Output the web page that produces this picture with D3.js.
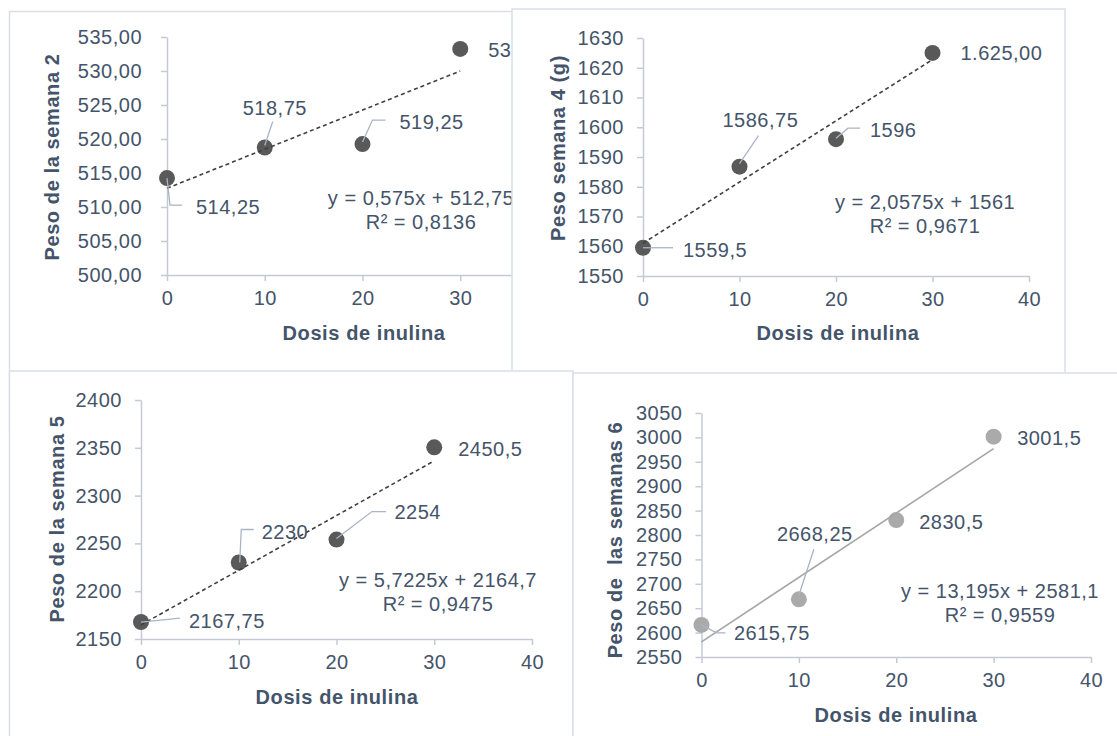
<!DOCTYPE html>
<html>
<head>
<meta charset="utf-8">
<script src="https://cdn.jsdelivr.net/npm/d3@7"></script>
<style>
  body { margin: 0; background: #fff; }
  svg { display: block; }
</style>
</head>
<body>
<svg id="chart" width="1117" height="736"></svg>
<script>
// doses (x) shared by the four charts
const dosis = [0, 10, 20, 30];
const xTicks = [0, 10, 20, 30, 40];

// semana 2
const pesoSem2 = [514.25, 518.75, 519.25, 533.25];
const labelsSem2 = ['514,25', '518,75', '519,25', '533,25'];
const ticksSem2 = [500, 505, 510, 515, 520, 525, 530, 535];
const trendSem2 = [0.575, 512.75];
const eqSem2 = ['y = 0,575x + 512,75', 'R² = 0,8136'];

// semana 4
const pesoSem4 = [1559.5, 1586.75, 1596, 1625];
const labelsSem4 = ['1559,5', '1586,75', '1596', '1.625,00'];
const ticksSem4 = [1550, 1560, 1570, 1580, 1590, 1600, 1610, 1620, 1630];
const trendSem4 = [2.0575, 1561];
const eqSem4 = ['y = 2,0575x + 1561', 'R² = 0,9671'];

// semana 5
const pesoSem5 = [2167.75, 2230, 2254, 2350.5];
const labelsSem5 = ['2167,75', '2230', '2254', '2450,5'];
const ticksSem5 = [2150, 2200, 2250, 2300, 2350, 2400];
const trendSem5 = [5.7225, 2164.7];
const eqSem5 = ['y = 5,7225x + 2164,7', 'R² = 0,9475'];

// semana 6
const pesoSem6 = [2615.75, 2668.25, 2830.5, 3001.5];
const labelsSem6 = ['2615,75', '2668,25', '2830,5', '3001,5'];
const ticksSem6 = [2550, 2600, 2650, 2700, 2750, 2800, 2850, 2900, 2950, 3000, 3050];
const trendSem6 = [13.195, 2581.1];
const eqSem6 = ['y = 13,195x + 2581,1', 'R² = 0,9559'];

const esLocale = d3.formatLocale({ decimal: ',', thousands: '.', grouping: [3], currency: ['', ''] });
const fmtDec = esLocale.format('.2f');
const fmtInt = esLocale.format('d');

const textColor = '#44546a';
const axisColor = '#c3cad6';
const leaderColor = '#a9b4c6';
const frameColor = '#d9dee7';
const font = '"Liberation Sans", Arial, sans-serif';

// layout of each chart (pixel positions only)
const panels = [
  {
    values: pesoSem2, labels: labelsSem2, ticks: ticksSem2, trend: trendSem2, eq: eqSem2,
    fmt: fmtDec, yTitle: 'Peso de la semana 2',
    frame: [9.5, 11.5, 620, 420], xRange: [167, 558], yRange: [275, 37], yPad: 25,
    dot: '#595959', line: '#404040', dash: '4,3',
    labelPos: [[29, 29], [-22, -40], [37, -22], [28, 1]],
    leaders: [[[0, 0], [3, 27], [15, 27]], [[0, -2], [8, -26]], [[0, -2], [10, -24], [23, -24]], null],
    eqPos: [421, 198], yTitlePos: [52, 157], xTitlePos: [364, 333]
  },
  {
    values: pesoSem4, labels: labelsSem4, ticks: ticksSem4, trend: trendSem4, eq: eqSem4,
    fmt: fmtInt, yTitle: 'Peso semana 4 (g)',
    frame: [512, 9, 553, 420], xRange: [643, 1029], yRange: [276, 38], yPad: 19,
    dot: '#595959', line: '#404040', dash: '4,3',
    labelPos: [[40, 2], [-17, -47], [34, -9], [28, 0]],
    leaders: [[[0, 0], [30, 0]], [[0, -3], [19, -31]], [[0, -1], [12, -11], [24, -11]], null],
    eqPos: [925, 202], yTitlePos: [558, 148], xTitlePos: [838, 333]
  },
  {
    values: pesoSem5, labels: labelsSem5, ticks: ticksSem5, trend: trendSem5, eq: eqSem5,
    fmt: fmtInt, yTitle: 'Peso de la semana 5',
    frame: [9.5, 371, 563.5, 420], xRange: [141, 532], yRange: [639, 400], yPad: 19,
    dot: '#595959', line: '#404040', dash: '4,3',
    labelPos: [[48, -1], [23, -31], [58, -28], [24, 2]],
    leaders: [[[0, 0], [39, -4]], [[1, 0], [2.5, -33], [15, -33]], [[0, -1], [35.5, -28], [49.5, -28]], null],
    eqPos: [438, 580], yTitlePos: [57, 519], xTitlePos: [337, 697]
  },
  {
    values: pesoSem6, labels: labelsSem6, ticks: ticksSem6, trend: trendSem6, eq: eqSem6,
    fmt: fmtInt, yTitle: 'Peso de  las semanas 6',
    frame: [573, 373, 600, 420], xRange: [701.5, 1091], yRange: [657, 413], yPad: 19,
    dot: '#aaaaaa', line: '#a6a6a6', dash: null,
    labelPos: [[32.5, 8], [-22, -65], [23, 2], [23.5, 1]],
    leaders: [[[0, 0], [15, 8], [24, 8]], [[0, -4], [15, -50]], null, null],
    eqPos: [1000, 591], yTitlePos: [615, 540], xTitlePos: [896, 715]
  }
];

const svg = d3.select('#chart');
const leaderLine = d3.line();

function styleText(sel, bold) {
  return sel
    .attr('fill', textColor)
    .style('font-family', font)
    .style('font-size', '20px')
    .style('font-weight', bold ? 'bold' : 'normal')
    .style('letter-spacing', bold ? '0.6px' : '0.5px');
}

function drawPanel(p) {
  const g = svg.append('g');

  g.append('rect')
    .attr('x', p.frame[0])
    .attr('y', p.frame[1])
    .attr('width', p.frame[2])
    .attr('height', p.frame[3])
    .attr('fill', '#fff')
    .attr('stroke', frameColor)
    .attr('stroke-width', 1.5);

  const x = d3.scaleLinear().domain([0, 40]).range(p.xRange);
  const y = d3.scaleLinear().domain([p.ticks[0], p.ticks[p.ticks.length - 1]]).range(p.yRange);

  const yAxis = g.append('g')
    .attr('transform', `translate(${x(0)},0)`)
    .call(d3.axisLeft(y).tickValues(p.ticks).tickFormat(p.fmt).tickSize(6).tickSizeOuter(0).tickPadding(p.yPad - 6));

  const xAxis = g.append('g')
    .attr('transform', `translate(0,${y(p.ticks[0])})`)
    .call(d3.axisBottom(x).tickValues(xTicks).tickSize(6).tickSizeOuter(0).tickPadding(10));

  [yAxis, xAxis].forEach(a => {
    a.select('.domain').attr('stroke', axisColor).attr('stroke-width', 1.5);
    a.selectAll('.tick line').attr('stroke', axisColor).attr('stroke-width', 1.5);
    styleText(a.selectAll('.tick text'), false);
  });

  const pts = dosis.map((d, i) => ({ x: x(d), y: y(p.values[i]), i }));

  g.selectAll('circle.pt')
    .data(pts)
    .enter()
    .append('circle')
    .attr('class', 'pt')
    .attr('cx', d => d.x)
    .attr('cy', d => d.y)
    .attr('r', 8)
    .attr('fill', p.dot);

  // trendline from the fitted equation
  const trendLine = d3.line()
    .x(d => x(d))
    .y(d => y(p.trend[0] * d + p.trend[1]));

  g.append('path')
    .attr('d', trendLine([dosis[0], dosis[dosis.length - 1]]))
    .attr('fill', 'none')
    .attr('stroke', p.line)
    .attr('stroke-width', 1.6)
    .attr('stroke-dasharray', p.dash);

  pts.forEach(d => {
    const lead = p.leaders[d.i];
    if (lead) {
      g.append('path')
        .attr('d', leaderLine(lead.map(o => [d.x + o[0], d.y + o[1]])))
        .attr('fill', 'none')
        .attr('stroke', leaderColor)
        .attr('stroke-width', 1.3);
    }
  });

  g.selectAll('text.lbl')
    .data(pts)
    .enter()
    .append('text')
    .attr('class', 'lbl')
    .attr('x', d => d.x + p.labelPos[d.i][0])
    .attr('y', d => d.y + p.labelPos[d.i][1])
    .attr('dominant-baseline', 'central')
    .call(styleText, false)
    .text(d => p.labels[d.i]);

  g.selectAll('text.eq')
    .data(p.eq)
    .enter()
    .append('text')
    .attr('class', 'eq')
    .attr('x', p.eqPos[0])
    .attr('y', (d, i) => p.eqPos[1] + i * 24)
    .attr('text-anchor', 'middle')
    .attr('dominant-baseline', 'central')
    .call(styleText, false)
    .text(d => d);

  g.append('text')
    .attr('transform', `translate(${p.yTitlePos[0]},${p.yTitlePos[1]}) rotate(-90)`)
    .attr('text-anchor', 'middle')
    .attr('dominant-baseline', 'central')
    .attr('xml:space', 'preserve')
    .style('white-space', 'pre')
    .call(styleText, true)
    .text(p.yTitle);

  g.append('text')
    .attr('x', p.xTitlePos[0])
    .attr('y', p.xTitlePos[1])
    .attr('text-anchor', 'middle')
    .attr('dominant-baseline', 'central')
    .call(styleText, true)
    .text('Dosis de inulina');
}

panels.forEach(drawPanel);
</script>
</body>
</html>
